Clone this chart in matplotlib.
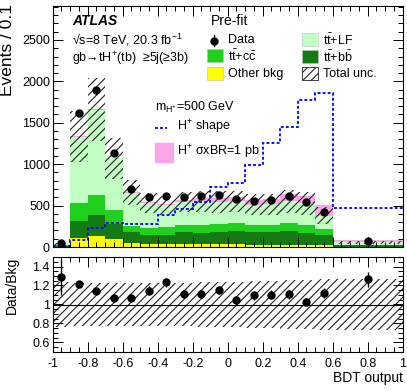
import numpy as np
import matplotlib
matplotlib.use("Agg")
from matplotlib import pyplot as plt
from matplotlib.patches import Rectangle
from matplotlib.lines import Line2D
from matplotlib.ticker import MultipleLocator, FuncFormatter

plt.rcParams['font.family'] = ['Liberation Sans', 'DejaVu Sans']
plt.rcParams['mathtext.fontset'] = 'custom'
plt.rcParams['mathtext.rm'] = 'Liberation Sans'
plt.rcParams['mathtext.it'] = 'Liberation Sans:italic'
plt.rcParams['mathtext.bf'] = 'Liberation Sans:bold'
plt.rcParams['axes.unicode_minus'] = False
plt.rcParams['hatch.linewidth'] = 0.8

# bin edges of the BDT output
edges = [-1.0, -0.9, -0.8, -0.7, -0.6, -0.5, -0.4, -0.3, -0.2, -0.1,
         0.0, 0.1, 0.2, 0.3, 0.4, 0.5, 0.6, 1.0]

# pre-fit backgrounds (events / 0.1)
other_bkg = [5, 110, 130, 93, 48, 33, 32, 32, 32, 32, 32, 30, 30, 30, 30, 28, 4]
tt_bb = [12, 205, 253, 181, 133, 108, 118, 149, 140, 149, 162, 147, 156, 160, 140, 122, 16]
tt_cc = [10, 217, 242, 178, 69, 93, 92, 89, 91, 102, 101, 93, 84, 100, 100, 72, 10]
tt_lf = [11, 799, 1034, 618, 403, 293, 260, 272, 287, 263, 255, 238, 245, 261, 256, 155, 25]
signal = [1, 5, 6, 8, 10, 12, 18, 20, 40, 45, 50, 65, 70, 85, 87, 125, 25]
unc_rel = [0.24, 0.23, 0.23, 0.23, 0.23, 0.23, 0.23, 0.23, 0.24, 0.24,
           0.24, 0.25, 0.25, 0.26, 0.26, 0.27, 0.27]

data = [49, 1620, 1890, 1139, 699, 602, 618, 602, 610, 630, 577, 557, 569, 610, 541, 423, 69]
ratio = [1.286, 1.217, 1.139, 1.064, 1.071, 1.143, 1.232, 1.11, 1.11, 1.153,
         1.05, 1.096, 1.104, 1.107, 1.029, 1.121, 1.264]

# H+ shape (arbitrary normalisation)
hp_shape = [8, 90, 230, 295, 274, 274, 390, 456, 545, 720, 778, 996, 1252, 1451, 1774, 1855, 468]

edges = np.array(edges)
left = edges[:-1]
width = np.diff(edges)
centers = left + width / 2
bkg = np.array(other_bkg) + np.array(tt_bb) + np.array(tt_cc) + np.array(tt_lf)
unc = np.array(unc_rel)
data = np.array(data, dtype=float)
nraw = data * width / 0.1
data_err = np.sqrt(nraw) / (width / 0.1)
ratio_err = data_err / bkg

W, H = 407, 391
fig = plt.figure(figsize=(W / 100, H / 100), dpi=100)


def P(x, y):
    return x / W, 1 - y / H


ax = fig.add_axes([52.7 / W, 1 - 247 / H, 350 / W, 241 / H])
ax2 = fig.add_axes([52.7 / W, 1 - 352 / H, 350 / W, 95 / H])

c_other, c_bb, c_cc, c_lf, c_sig = '#ffff00', '#147a14', '#1fd01f', '#c2ffc2', '#fba6e8'
hatch_col = '#222222'
bottom = np.zeros(len(left))
for vals, col in [(other_bkg, c_other), (tt_bb, c_bb), (tt_cc, c_cc), (tt_lf, c_lf), (signal, c_sig)]:
    ax.bar(left, vals, width=width, bottom=bottom, align='edge', color=col, linewidth=0)
    bottom = bottom + np.array(vals)

ax.bar(left, 2 * unc * bkg, width=width, bottom=bkg * (1 - unc), align='edge',
       fill=False, hatch='////', edgecolor=hatch_col, linewidth=0)
ax.stairs(hp_shape, edges, baseline=None, color='#0000ff', lw=1.3, linestyle=(0, (1.6, 1.2)))
ax.errorbar(centers, data, yerr=data_err, fmt='o', color='k', ms=5, elinewidth=1, capsize=0)

ax.set_xlim(-1, 1)
ax.set_ylim(0, 2910)
ax.yaxis.set_major_locator(MultipleLocator(500))
ax.yaxis.set_minor_locator(MultipleLocator(100))
ax.tick_params(labelbottom=False)

# ratio panel
ax2.bar(left, 2 * unc, width=width, bottom=1 - unc, align='edge',
        fill=False, hatch='////', edgecolor=hatch_col, linewidth=0)
ax2.axhline(1, color='k', lw=0.8)
ax2.errorbar(centers, ratio, yerr=ratio_err, fmt='o', color='k', ms=5, elinewidth=1, capsize=0)
ax2.set_xlim(-1, 1)
ax2.set_ylim(0.5, 1.5)
ax2.yaxis.set_major_locator(MultipleLocator(0.2))
ax2.yaxis.set_minor_locator(MultipleLocator(0.05))
ax2.yaxis.set_major_formatter(FuncFormatter(lambda v, p: f"{round(v, 2):g}"))


def xfmt(v, p):
    v = round(v, 2)
    if abs(v) < 1e-9:
        return "0"
    return f"{v:g}"


ax2.xaxis.set_major_formatter(FuncFormatter(xfmt))

for a in (ax, ax2):
    a.xaxis.set_major_locator(MultipleLocator(0.2))
    a.xaxis.set_minor_locator(MultipleLocator(0.05))
    a.tick_params(which='both', direction='in', top=True, right=True, labelsize=9, pad=2)
    a.tick_params(which='major', length=7, width=0.7)
    a.tick_params(which='minor', length=3.5, width=0.7)
    for s in a.spines.values():
        s.set_linewidth(0.8)
ax2.tick_params(axis='x', pad=4)

# axis titles
fig.text(*P(7.5, 4), "Events / 0.1", rotation=90, ha='center', va='top', fontsize=12.5)
fig.text(*P(12, 257), "Data/Bkg", rotation=90, ha='center', va='top', fontsize=10)
fig.text(*P(402.7, 378), "BDT output", ha='right', va='center', fontsize=10)

# labels
fig.text(*P(72, 21), "ATLAS", fontsize=10, fontweight='bold', style='italic', va='center')
fig.text(*P(72, 40), "√s=8 TeV, 20.3 fb$^{-1}$", fontsize=9, va='center')
fig.text(*P(72, 59), "gb→tH$^{+}$(tb)  ≥5j(≥3b)", fontsize=9, va='center')
fig.text(*P(155, 107), "m$_{\\mathrm{H^{+}}}$=500 GeV", fontsize=9, va='center')
fig.add_artist(Line2D([155 / W, 167 / W], [1 - 127.5 / H] * 2, color='#0000ff', lw=1.3,
                      linestyle=(0, (1.6, 1.2)), transform=fig.transFigure))
fig.text(*P(177, 127), "H$^{+}$ shape", fontsize=9, va='center')
fig.add_artist(Rectangle(P(155, 162), 18 / W, 19 / H, color=c_sig, transform=fig.transFigure))
fig.text(*P(177, 152), "H$^{+}$ σxBR=1 pb", fontsize=9, va='center')

# legend
fig.text(*P(211, 21), "Pre-fit", fontsize=10, va='center')
fig.add_artist(Line2D([214.5 / W] * 2, [1 - 35 / H, 1 - 46 / H], color='k', lw=1, transform=fig.transFigure))
fig.add_artist(Line2D([214.5 / W], [1 - 40.5 / H], marker='o', ms=5, color='k', transform=fig.transFigure))
fig.text(*P(228, 40), "Data", fontsize=9, va='center')

boxes = [
    (207, 49, c_cc, None, "$\\mathrm{t\\bar{t}}$+$\\mathrm{c\\bar{c}}$", 56),
    (207, 67, c_other, None, "Other bkg", 74),
    (302, 33, c_lf, None, "$\\mathrm{t\\bar{t}}$+LF", 40),
    (302, 50, c_bb, None, "$\\mathrm{t\\bar{t}}$+$\\mathrm{b\\bar{b}}$", 57),
    (302, 67, 'none', '////', "Total unc.", 74),
]
for bx, by, col, hatch, label, ty in boxes:
    if hatch:
        r = Rectangle(P(bx, by + 13), 16 / W, 13 / H, facecolor='none', edgecolor=hatch_col,
                      hatch=hatch, linewidth=0.6, transform=fig.transFigure)
    else:
        r = Rectangle(P(bx, by + 13), 16 / W, 13 / H, facecolor=col, edgecolor='#bbbbbb',
                      linewidth=0.4, transform=fig.transFigure)
    fig.add_artist(r)
    fig.text(*P(bx + 21, ty), label, fontsize=9, va='center')

fig.savefig("out.png", dpi=100)
